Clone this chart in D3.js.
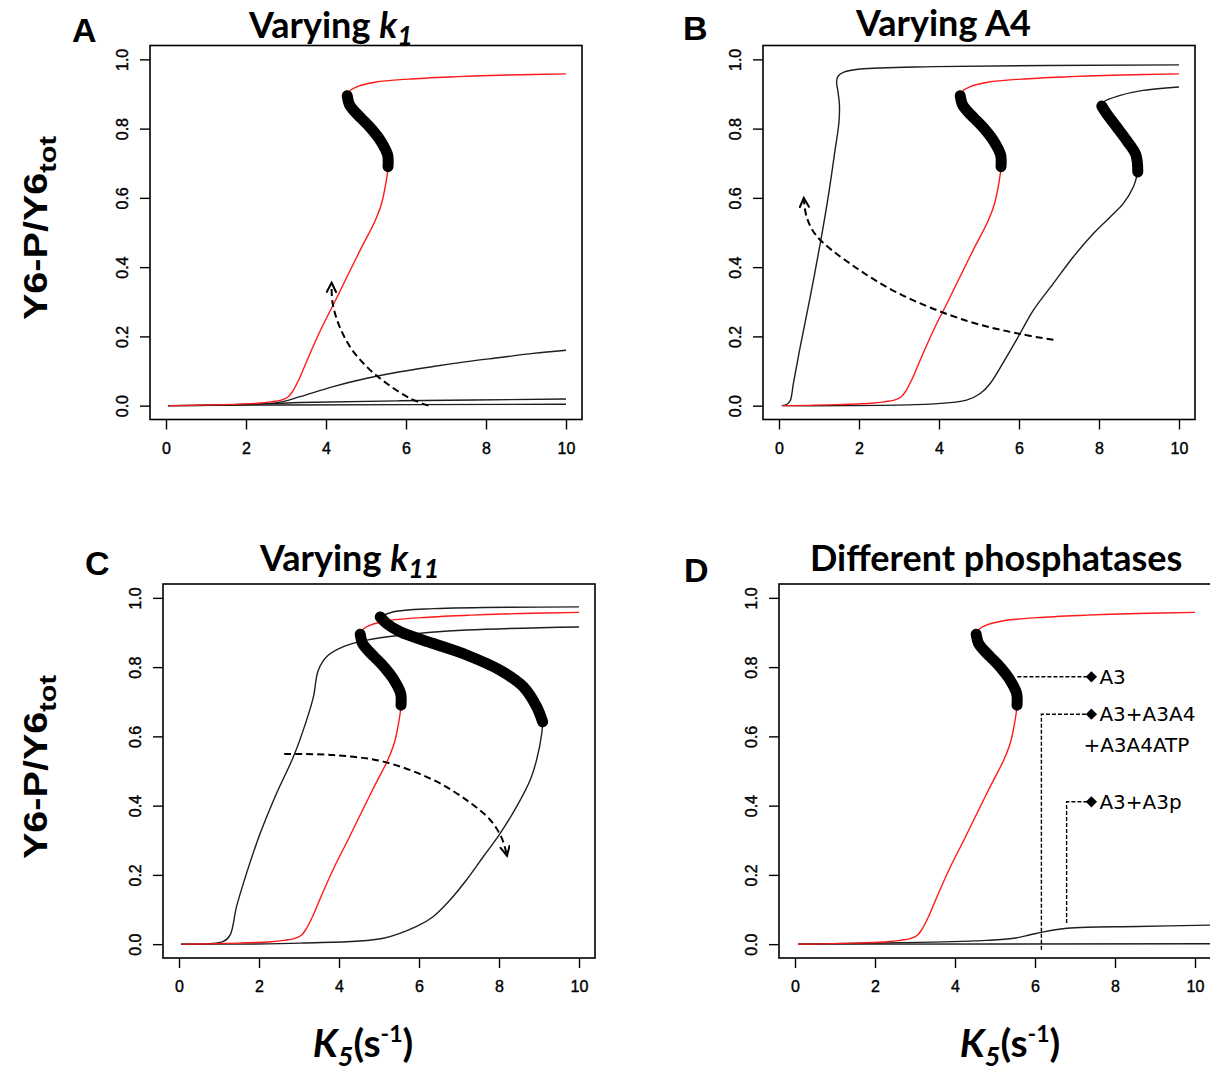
<!DOCTYPE html>
<html>
<head>
<meta charset="utf-8">
<script src="https://cdn.jsdelivr.net/npm/d3@7"></script>
<style>
body { margin: 0; background: #fff; }
</style>
</head>
<body>
<svg id="chart"></svg>
<script>
var svgWidth = 1210;
var svgHeight = 1075;

// ticks
var xTicks = [0, 2, 4, 6, 8, 10];
var yTicks = [0, 0.2, 0.4, 0.6, 0.8, 1.0];

// red reference curve, the same in all four panels (K5, Y6-P/Y6tot)
var refLower = [[0.08,0],[1.46,0.003],[2.3,0.007],[2.63,0.011],[2.88,0.016],[3.05,0.025],[3.17,0.042],[3.34,0.08],[3.55,0.137],[3.88,0.222],[4.22,0.3],[4.55,0.378],[4.88,0.455],[5.22,0.532],[5.38,0.58],[5.5,0.645],[5.55,0.69]];
var refUnstable = [[5.55,0.69],[5.54,0.724],[5.38,0.762],[5.13,0.8],[4.88,0.83],[4.72,0.849],[4.59,0.868],[4.53,0.895]];
var refUpper = [[4.53,0.895],[4.59,0.908],[4.8,0.922],[5.22,0.934],[6.05,0.943],[7.3,0.95],[8.56,0.955],[10,0.958]];

// A: other k1 values
var k1CurveHigh = [[0.05,0],[2.0,0.003],[2.85,0.01],[3.35,0.026],[4.18,0.055],[5.02,0.079],[5.85,0.098],[6.68,0.113],[7.52,0.127],[8.35,0.139],[9.18,0.151],[10,0.16]];
var k1CurveMid = [[0.05,0],[2.5,0.005],[3.35,0.009],[5.85,0.014],[10,0.019]];
var k1CurveLow = [[0.05,0],[3,0.002],[10,0.004]];
var k1Arrow = [[6.56,0.0],[6.1,0.021],[5.52,0.064],[5.02,0.112],[4.6,0.17],[4.31,0.237],[4.16,0.3],[4.14,0.355]];

// B: other A4 values
var a4CurveLeft = [[0.07,0],[0.2,0.004],[0.28,0.014],[0.36,0.064],[0.53,0.17],[0.78,0.314],[1.03,0.468],[1.23,0.603],[1.4,0.737],[1.5,0.82],[1.51,0.87],[1.47,0.91],[1.44,0.935],[1.48,0.952],[1.62,0.963],[2.03,0.972],[3.86,0.979],[10,0.984]];
var a4RightLower = [[0.07,0],[3.86,0.005],[4.69,0.016],[5.03,0.035],[5.28,0.064],[5.69,0.141],[6.03,0.209],[6.36,0.276],[6.86,0.353],[7.36,0.43],[7.86,0.497],[8.28,0.545],[8.61,0.584],[8.86,0.632],[8.97,0.675]];
var a4RightUnstable = [[8.97,0.675],[8.92,0.725],[8.69,0.766],[8.44,0.805],[8.19,0.843],[8.07,0.865]];
var a4RightUpper = [[8.07,0.865],[8.13,0.878],[8.53,0.896],[9.03,0.909],[10,0.92]];
var a4Arrow = [[6.86,0.19],[6.03,0.207],[4.69,0.245],[3.03,0.322],[1.78,0.41],[0.94,0.49],[0.69,0.545],[0.62,0.6]];

// C: other k11 values
var k11CurveLeft = [[0.05,0],[1.11,0.008],[1.28,0.027],[1.44,0.109],[1.69,0.205],[2.03,0.32],[2.44,0.436],[2.86,0.541],[3.19,0.647],[3.36,0.714],[3.48,0.79],[3.69,0.83],[4.11,0.859],[4.69,0.878],[5.53,0.892],[7.19,0.907],[10,0.916]];
var k11RightLower = [[0.05,0],[3.03,0.003],[5.11,0.017],[5.94,0.051],[6.36,0.08],[6.78,0.128],[7.19,0.186],[7.61,0.253],[8.03,0.32],[8.44,0.397],[8.78,0.474],[8.94,0.532],[9.07,0.609],[9.09,0.642]];
var k11RightUnstable = [[9.09,0.642],[8.94,0.686],[8.61,0.743],[8.03,0.791],[7.19,0.835],[6.36,0.868],[5.53,0.902],[5.19,0.926],[5.03,0.945]];
var k11RightUpper = [[5.03,0.945],[5.36,0.96],[6.36,0.969],[10,0.974]];
var k11Arrow = [[2.63,0.549],[3.86,0.546],[5.11,0.527],[6.36,0.474],[7.19,0.416],[7.78,0.359],[8.07,0.306],[8.2,0.255]];

// D: other phosphatases
var phosCurveA = [[0.08,0],[3.13,0.005],[4.8,0.011],[5.47,0.017],[5.88,0.027],[6.16,0.034],[6.47,0.041],[6.8,0.046],[7.3,0.049],[8.56,0.051],[10.38,0.055]];
var phosCurveB = [[0.08,0],[10.38,0.001]];

// D: leader lines and labels
var phosLabels = ["A3", "A3+A3A4", "+A3A4ATP", "A3+A3p"];
var leaderA3 = [[5.56,0.772],[7.41,0.772]];
var leaderA3A4 = [[6.16,-0.016],[6.16,0.664],[7.41,0.664]];
var leaderA3p = [[6.79,0.061],[6.79,0.411],[7.41,0.411]];

var boxW = 432, boxH = 374;

var svg = d3.select("#chart")
    .attr("width", svgWidth)
    .attr("height", svgHeight)
    .style("font-family", "'Liberation Sans', Arial, sans-serif");

var defs = svg.append("defs");
defs.append("marker")
    .attr("id", "head")
    .attr("markerUnits", "userSpaceOnUse")
    .attr("markerWidth", 14)
    .attr("markerHeight", 14)
    .attr("refX", 10)
    .attr("refY", 5)
    .attr("orient", "auto")
  .append("path")
    .attr("d", "M0,0 L10,5 L0,10")
    .attr("fill", "none")
    .attr("stroke", "#000")
    .attr("stroke-width", 2)
    .attr("stroke-dasharray", "none");

var panels = [
    {letter: "A", left: 150, top: 45.5, lx: 72, ly: 42,
     title: [["Varying ", false, false], ["k", true, false], ["1", true, true]], tx: 249, ty: 38,
     stable: [k1CurveHigh, k1CurveMid, k1CurveLow], unstable: [], arrow: k1Arrow},
    {letter: "B", left: 763, top: 45.5, lx: 683, ly: 40,
     title: [["Varying A4", false, false]], tx: 856, ty: 36,
     stable: [a4CurveLeft, a4RightLower, a4RightUpper], unstable: [a4RightUnstable], arrow: a4Arrow},
    {letter: "C", left: 163, top: 584, lx: 85, ly: 575,
     title: [["Varying ", false, false], ["k", true, false], ["11", true, true]], tx: 260, ty: 571,
     stable: [k11CurveLeft, k11RightLower, k11RightUpper], unstable: [k11RightUnstable], arrow: k11Arrow},
    {letter: "D", left: 779, top: 584, lx: 684, ly: 582,
     title: [["Different phosphatases", false, false]], tx: 810, ty: 571,
     stable: [phosCurveB, phosCurveA], unstable: [], arrow: null}
];

panels.forEach(function(p) {
    var x = d3.scaleLinear().domain([-0.4, 10.4]).range([0, boxW]);
    var y = d3.scaleLinear().domain([-0.04, 1.04]).range([boxH, 0]);
    var line = d3.line().x(d => x(d[0])).y(d => y(d[1])).curve(d3.curveCatmullRom);

    var g = svg.append("g").attr("transform", `translate(${p.left}, ${p.top})`);

    // axes, R style
    var xAxis = g.append("g")
        .attr("transform", `translate(0, ${boxH})`)
        .call(d3.axisBottom(x).tickValues(xTicks).tickSize(10).tickPadding(13).tickFormat(d3.format("d")));
    var yAxis = g.append("g")
        .call(d3.axisLeft(y).tickValues(yTicks).tickSize(10).tickFormat(d3.format(".1f")));
    [xAxis, yAxis].forEach(function(a) {
        a.select(".domain").remove();
        a.selectAll("line").attr("stroke", "#000").attr("stroke-width", 1.4);
        a.selectAll("text").attr("fill", "#000").style("font-size", "16px")
            .attr("stroke", "#000").attr("stroke-width", 0.4)
            .style("font-family", "'Liberation Sans', Arial, sans-serif");
    });
    yAxis.selectAll("text")
        .attr("x", null).attr("dy", null)
        .attr("text-anchor", "middle")
        .attr("transform", "translate(-22,0) rotate(-90)");

    g.append("rect")
        .attr("width", boxW).attr("height", boxH)
        .attr("fill", "none").attr("stroke", "#000").attr("stroke-width", 1.6);

    // curves
    p.stable.forEach(function(c) {
        g.append("path").datum(c).attr("d", line)
            .attr("fill", "none").attr("stroke", "#1e1e1e").attr("stroke-width", 1.4);
    });
    g.append("path").datum(refLower.concat(refUnstable.slice(1), refUpper.slice(1)))
        .attr("d", line)
        .attr("fill", "none").attr("stroke", "#ff1a1a").attr("stroke-width", 1.4);
    p.unstable.concat([refUnstable]).forEach(function(c) {
        g.append("path").datum(c).attr("d", line)
            .attr("fill", "none").attr("stroke", "#000").attr("stroke-width", 11)
            .attr("stroke-linecap", "round").attr("stroke-linejoin", "round");
    });

    if (p.arrow) {
        g.append("path").datum(p.arrow).attr("d", line)
            .attr("fill", "none").attr("stroke", "#000").attr("stroke-width", 2)
            .attr("stroke-dasharray", "7,4")
            .attr("marker-end", "url(#head)");
    }

    if (p.letter === "D") {
        var straight = d3.line().x(d => x(d[0])).y(d => y(d[1]));
        [leaderA3, leaderA3A4, leaderA3p].forEach(function(l) {
            g.append("path").datum(l).attr("d", straight)
                .attr("fill", "none").attr("stroke", "#000").attr("stroke-width", 1.4)
                .attr("stroke-dasharray", "4,2");
            var end = l[l.length - 1];
            g.append("rect")
                .attr("x", -4).attr("y", -4).attr("width", 8).attr("height", 8)
                .attr("transform", `translate(${x(end[0])}, ${y(end[1])}) rotate(45)`)
                .attr("fill", "#000");
        });
        var labelPos = [[leaderA3[1], 0], [leaderA3A4[2], 0], [leaderA3A4[2], 1], [leaderA3p[2], 0]];
        phosLabels.forEach(function(t, i) {
            var pt = labelPos[i][0];
            g.append("text")
                .attr("x", x(pt[0]) + (i === 2 ? -8 : 8))
                .attr("y", y(pt[1]) + 7 + labelPos[i][1] * 31)
                .style("font-family", "'DejaVu Sans', sans-serif")
                .style("font-size", "20px")
                .attr("fill", "#000")
                .text(t);
        });
    }

    // panel letter and title
    svg.append("text").attr("x", p.lx).attr("y", p.ly)
        .style("font-family", "'Liberation Sans', Arial, sans-serif")
        .style("font-size", "34px").style("font-weight", "bold").text(p.letter);
    var title = svg.append("text").attr("x", p.tx).attr("y", p.ty)
        .style("font-family", "Lato, 'Open Sans', sans-serif")
        .style("font-size", "36px").style("font-weight", "bold");
    p.title.forEach(function(s) {
        var ts = title.append("tspan").text(s[0]);
        if (s[1]) ts.style("font-style", "italic");
        if (s[2]) ts.style("font-size", "27px").attr("dy", 7);
    });
});

// shared axis labels
[228, 767].forEach(function(cy) {
    var t = svg.append("text")
        .attr("transform", `translate(47, ${cy}) rotate(-90)`)
        .attr("text-anchor", "middle")
        .attr("textLength", 184)
        .attr("lengthAdjust", "spacingAndGlyphs")
        .style("font-family", "'Liberation Sans', Arial, sans-serif")
        .style("font-size", "33px").style("font-weight", "bold");
    t.append("tspan").text("Y6-P/Y6");
    t.append("tspan").text("tot").style("font-size", "24px").attr("dy", 9);
});
[363, 1010].forEach(function(cx) {
    var t = svg.append("text")
        .attr("x", cx).attr("y", 1057)
        .attr("text-anchor", "middle")
        .style("font-family", "Lato, 'Open Sans', sans-serif")
        .style("font-size", "39px").style("font-weight", "bold");
    t.append("tspan").text("K").style("font-style", "italic");
    t.append("tspan").text("5").style("font-style", "italic").style("font-size", "27px").attr("dy", 9);
    t.append("tspan").text("(s").attr("dy", -9);
    t.append("tspan").text("-1").style("font-size", "23px").attr("dy", -15);
    t.append("tspan").text(")").attr("dy", 15);
});
</script>
</body>
</html>
